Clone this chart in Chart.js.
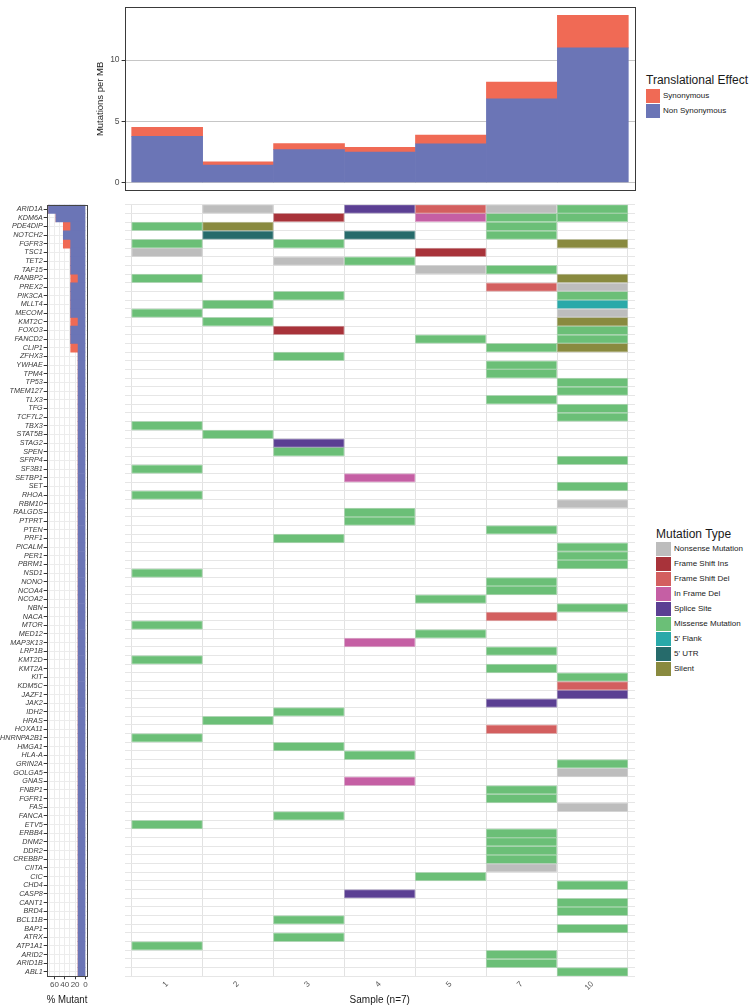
<!DOCTYPE html>
<html>
<head>
<meta charset="utf-8">
<script src="https://cdn.jsdelivr.net/npm/chart.js"></script>
<style>
    body { margin: 0; background: #fff; font-family: "Liberation Sans", Arial, sans-serif; }
    #wrap { position: relative; width: 750px; height: 1006px; overflow: hidden; }
    .box { position: absolute; }
    .lg-title { position: absolute; font-size: 12px; line-height: 14px; color: #1a1a1a; white-space: nowrap; }
    .lg-label { position: absolute; font-size: 8px; color: #1a1a1a; white-space: nowrap; }
    .lg-swatch { position: absolute; }
</style>
</head>
<body>
<div id="wrap">
    <div class="box" style="left:0;top:0;width:640px;height:200px"><canvas id="tmbChart"></canvas></div>
    <div class="box" style="left:0;top:195px;width:100px;height:811px"><canvas id="pctChart"></canvas></div>
    <div class="box" style="left:100px;top:195px;width:540px;height:811px"><canvas id="gridChart"></canvas></div>
</div>
<script>
// Samples (columns) and mutation burden per sample
const samples = ['1', '2', '3', '4', '5', '7', '10'];
const nonSynMB = [3.76, 1.42, 2.68, 2.47, 3.16, 6.84, 11.0];
const synMB = [0.74, 0.26, 0.50, 0.40, 0.71, 1.37, 2.66];
const tmbTicks = [0, 5, 10];

// Genes (rows, top to bottom)
const genes = [
    'ARID1A', 'KDM6A', 'PDE4DIP', 'NOTCH2', 'FGFR3', 'TSC1', 'TET2', 'TAF15', 'RANBP2', 'PREX2',
    'PIK3CA', 'MLLT4', 'MECOM', 'KMT2C', 'FOXO3', 'FANCD2', 'CLIP1', 'ZFHX3', 'YWHAE', 'TPM4',
    'TP53', 'TMEM127', 'TLX3', 'TFG', 'TCF7L2', 'TBX3', 'STAT5B', 'STAG2', 'SPEN', 'SFRP4',
    'SF3B1', 'SETBP1', 'SET', 'RHOA', 'RBM10', 'RALGDS', 'PTPRT', 'PTEN', 'PRF1', 'PICALM',
    'PER1', 'PBRM1', 'NSD1', 'NONO', 'NCOA4', 'NCOA2', 'NBN', 'NACA', 'MTOR', 'MED12',
    'MAP3K13', 'LRP1B', 'KMT2D', 'KMT2A', 'KIT', 'KDM5C', 'JAZF1', 'JAK2', 'IDH2', 'HRAS',
    'HOXA11', 'HNRNPA2B1', 'HMGA1', 'HLA-A', 'GRIN2A', 'GOLGA5', 'GNAS', 'FNBP1', 'FGFR1', 'FAS',
    'FANCA', 'ETV5', 'ERBB4', 'DNM2', 'DDR2', 'CREBBP', 'CIITA', 'CIC', 'CHD4', 'CASP8',
    'CANT1', 'BRD4', 'BCL11B', 'BAP1', 'ATRX', 'ATP1A1', 'ARID2', 'ARID1B', 'ABL1'
];

// % of samples mutated, per gene
const nonSynPct = [
    71.43, 57.14, 28.57, 42.86, 28.57, 28.57, 28.57, 28.57, 14.29, 28.57,
    28.57, 28.57, 28.57, 14.29, 28.57, 28.57, 14.29, 14.29, 14.29, 14.29,
    14.29, 14.29, 14.29, 14.29, 14.29, 14.29, 14.29, 14.29, 14.29, 14.29,
    14.29, 14.29, 14.29, 14.29, 14.29, 14.29, 14.29, 14.29, 14.29, 14.29,
    14.29, 14.29, 14.29, 14.29, 14.29, 14.29, 14.29, 14.29, 14.29, 14.29,
    14.29, 14.29, 14.29, 14.29, 14.29, 14.29, 14.29, 14.29, 14.29, 14.29,
    14.29, 14.29, 14.29, 14.29, 14.29, 14.29, 14.29, 14.29, 14.29, 14.29,
    14.29, 14.29, 14.29, 14.29, 14.29, 14.29, 14.29, 14.29, 14.29, 14.29,
    14.29, 14.29, 14.29, 14.29, 14.29, 14.29, 14.29, 14.29, 14.29
];
const synPct = [
    0, 0, 14.29, 0, 14.29, 0, 0, 0, 14.29, 0,
    0, 0, 0, 14.29, 0, 0, 14.29, 0, 0, 0,
    0, 0, 0, 0, 0, 0, 0, 0, 0, 0,
    0, 0, 0, 0, 0, 0, 0, 0, 0, 0,
    0, 0, 0, 0, 0, 0, 0, 0, 0, 0,
    0, 0, 0, 0, 0, 0, 0, 0, 0, 0,
    0, 0, 0, 0, 0, 0, 0, 0, 0, 0,
    0, 0, 0, 0, 0, 0, 0, 0, 0, 0,
    0, 0, 0, 0, 0, 0, 0, 0, 0
];
const pctTicks = [0, 20, 40, 60];
const pctGrid = [0, 10, 20, 30, 40, 50, 60, 70];

// Mutation types, legend order
const mutTypes = ['Nonsense Mutation', 'Frame Shift Ins', 'Frame Shift Del', 'In Frame Del', 'Splice Site',
    'Missense Mutation', "5' Flank", "5' UTR", 'Silent'];
const mutColors = ['#bdbdbd', '#a8333a', '#d35f5f', '#c55fa4', '#5b3f93',
    '#6bbf77', '#29a9a9', '#266b6b', '#898a3f'];

// [gene, sample, type]
const mutations = [
    ['ARID1A', '2', 'Nonsense Mutation'], ['ARID1A', '4', 'Splice Site'], ['ARID1A', '5', 'Frame Shift Del'],
    ['ARID1A', '7', 'Nonsense Mutation'], ['ARID1A', '10', 'Missense Mutation'],
    ['KDM6A', '3', 'Frame Shift Ins'], ['KDM6A', '5', 'In Frame Del'], ['KDM6A', '7', 'Missense Mutation'], ['KDM6A', '10', 'Missense Mutation'],
    ['PDE4DIP', '1', 'Missense Mutation'], ['PDE4DIP', '2', 'Silent'], ['PDE4DIP', '7', 'Missense Mutation'],
    ['NOTCH2', '2', "5' UTR"], ['NOTCH2', '4', "5' UTR"], ['NOTCH2', '7', 'Missense Mutation'],
    ['FGFR3', '1', 'Missense Mutation'], ['FGFR3', '3', 'Missense Mutation'], ['FGFR3', '10', 'Silent'],
    ['TSC1', '1', 'Nonsense Mutation'], ['TSC1', '5', 'Frame Shift Ins'],
    ['TET2', '3', 'Nonsense Mutation'], ['TET2', '4', 'Missense Mutation'],
    ['TAF15', '5', 'Nonsense Mutation'], ['TAF15', '7', 'Missense Mutation'],
    ['RANBP2', '1', 'Missense Mutation'], ['RANBP2', '10', 'Silent'],
    ['PREX2', '7', 'Frame Shift Del'], ['PREX2', '10', 'Nonsense Mutation'],
    ['PIK3CA', '3', 'Missense Mutation'], ['PIK3CA', '10', 'Missense Mutation'],
    ['MLLT4', '2', 'Missense Mutation'], ['MLLT4', '10', "5' Flank"],
    ['MECOM', '1', 'Missense Mutation'], ['MECOM', '10', 'Nonsense Mutation'],
    ['KMT2C', '2', 'Missense Mutation'], ['KMT2C', '10', 'Silent'],
    ['FOXO3', '3', 'Frame Shift Ins'], ['FOXO3', '10', 'Missense Mutation'],
    ['FANCD2', '5', 'Missense Mutation'], ['FANCD2', '10', 'Missense Mutation'],
    ['CLIP1', '7', 'Missense Mutation'], ['CLIP1', '10', 'Silent'],
    ['ZFHX3', '3', 'Missense Mutation'], ['YWHAE', '7', 'Missense Mutation'], ['TPM4', '7', 'Missense Mutation'],
    ['TP53', '10', 'Missense Mutation'], ['TMEM127', '10', 'Missense Mutation'], ['TLX3', '7', 'Missense Mutation'],
    ['TFG', '10', 'Missense Mutation'], ['TCF7L2', '10', 'Missense Mutation'], ['TBX3', '1', 'Missense Mutation'],
    ['STAT5B', '2', 'Missense Mutation'], ['STAG2', '3', 'Splice Site'], ['SPEN', '3', 'Missense Mutation'],
    ['SFRP4', '10', 'Missense Mutation'], ['SF3B1', '1', 'Missense Mutation'], ['SETBP1', '4', 'In Frame Del'],
    ['SET', '10', 'Missense Mutation'], ['RHOA', '1', 'Missense Mutation'], ['RBM10', '10', 'Nonsense Mutation'],
    ['RALGDS', '4', 'Missense Mutation'], ['PTPRT', '4', 'Missense Mutation'], ['PTEN', '7', 'Missense Mutation'],
    ['PRF1', '3', 'Missense Mutation'], ['PICALM', '10', 'Missense Mutation'], ['PER1', '10', 'Missense Mutation'],
    ['PBRM1', '10', 'Missense Mutation'], ['NSD1', '1', 'Missense Mutation'], ['NONO', '7', 'Missense Mutation'],
    ['NCOA4', '7', 'Missense Mutation'], ['NCOA2', '5', 'Missense Mutation'], ['NBN', '10', 'Missense Mutation'],
    ['NACA', '7', 'Frame Shift Del'], ['MTOR', '1', 'Missense Mutation'], ['MED12', '5', 'Missense Mutation'],
    ['MAP3K13', '4', 'In Frame Del'], ['LRP1B', '7', 'Missense Mutation'], ['KMT2D', '1', 'Missense Mutation'],
    ['KMT2A', '7', 'Missense Mutation'], ['KIT', '10', 'Missense Mutation'], ['KDM5C', '10', 'Frame Shift Del'],
    ['JAZF1', '10', 'Splice Site'], ['JAK2', '7', 'Splice Site'], ['IDH2', '3', 'Missense Mutation'],
    ['HRAS', '2', 'Missense Mutation'], ['HOXA11', '7', 'Frame Shift Del'], ['HNRNPA2B1', '1', 'Missense Mutation'],
    ['HMGA1', '3', 'Missense Mutation'], ['HLA-A', '4', 'Missense Mutation'], ['GRIN2A', '10', 'Missense Mutation'],
    ['GOLGA5', '10', 'Nonsense Mutation'], ['GNAS', '4', 'In Frame Del'], ['FNBP1', '7', 'Missense Mutation'],
    ['FGFR1', '7', 'Missense Mutation'], ['FAS', '10', 'Nonsense Mutation'], ['FANCA', '3', 'Missense Mutation'],
    ['ETV5', '1', 'Missense Mutation'], ['ERBB4', '7', 'Missense Mutation'], ['DNM2', '7', 'Missense Mutation'],
    ['DDR2', '7', 'Missense Mutation'], ['CREBBP', '7', 'Missense Mutation'], ['CIITA', '7', 'Nonsense Mutation'],
    ['CIC', '5', 'Missense Mutation'], ['CHD4', '10', 'Missense Mutation'], ['CASP8', '4', 'Splice Site'],
    ['CANT1', '10', 'Missense Mutation'], ['BRD4', '10', 'Missense Mutation'], ['BCL11B', '3', 'Missense Mutation'],
    ['BAP1', '10', 'Missense Mutation'], ['ATRX', '3', 'Missense Mutation'], ['ATP1A1', '1', 'Missense Mutation'],
    ['ARID2', '7', 'Missense Mutation'], ['ARID1B', '7', 'Missense Mutation'], ['ABL1', '10', 'Missense Mutation']
];

const BLUE = '#6b75b6';
const RED = '#f06a55';
const TEXT = '#1a1a1a';
const TICK_TEXT = '#4d4d4d';

Chart.defaults.font.family = '"Liberation Sans", Arial, sans-serif';
Chart.defaults.animation = false;
Chart.defaults.events = [];

// draws a plain box round the plot area
const panelFrame = {
    id: 'panelFrame',
    afterDatasetsDraw(chart, args, opts) {
        const a = chart.chartArea;
        const ctx = chart.ctx;
        ctx.save();
        ctx.strokeStyle = opts.color || '#333';
        ctx.lineWidth = 1;
        ctx.strokeRect(Math.round(a.left) + 0.5, Math.round(a.top) + 0.5,
            Math.round(a.right - a.left) - 1, Math.round(a.bottom - a.top) - 1);
        ctx.restore();
    }
};

const noLegend = { legend: { display: false }, tooltip: { enabled: false } };

// Top: mutations per MB
new Chart(document.getElementById('tmbChart'), {
    type: 'bar',
    data: {
        datasets: [
            {
                label: 'Non Synonymous',
                data: samples.map((s, i) => ({ x: i + 1, y: nonSynMB[i] })),
                backgroundColor: BLUE
            },
            {
                label: 'Synonymous',
                data: samples.map((s, i) => ({ x: i + 1, y: synMB[i] })),
                backgroundColor: RED
            }
        ]
    },
    options: {
        responsive: true,
        maintainAspectRatio: false,
        layout: { padding: { left: 95, right: 4.6, top: 1.7, bottom: 9.3 } },
        datasets: { bar: { barPercentage: 1, categoryPercentage: 1 } },
        plugins: { ...noLegend, panelFrame: { color: '#3a3a3a' } },
        scales: {
            x: {
                type: 'linear', stacked: true, offset: false, min: 0.4, max: 7.6,
                afterBuildTicks: s => { s.ticks = samples.map((_, i) => ({ value: i + 1 })); },
                afterFit: s => { s.height = 0; },
                ticks: { display: false },
                grid: { display: false, offset: false },
                border: { display: false }
            },
            y: {
                stacked: true, min: -0.68, max: 14.34,
                afterBuildTicks: s => { s.ticks = tmbTicks.map(v => ({ value: v })); },
                afterFit: s => { s.width = 29.6; },
                ticks: { font: { size: 8.5 }, color: TICK_TEXT, padding: 2 },
                grid: { color: '#c6c6c6', tickLength: 3, tickColor: '#333' },
                border: { display: false },
                title: { display: true, text: 'Mutations per MB', font: { size: 9.5 }, color: TEXT, padding: { top: 0, bottom: 0 } }
            }
        }
    },
    plugins: [panelFrame]
});

// Left: % mutant per gene
new Chart(document.getElementById('pctChart'), {
    type: 'bar',
    data: {
        labels: genes,
        datasets: [
            { label: 'Non Synonymous', data: nonSynPct, backgroundColor: BLUE },
            { label: 'Synonymous', data: synPct, backgroundColor: RED }
        ]
    },
    options: {
        indexAxis: 'y',
        responsive: true,
        maintainAspectRatio: false,
        layout: { padding: { left: 0, right: 12.7, top: 9.7, bottom: 0 } },
        datasets: { bar: { barPercentage: 1, categoryPercentage: 1 } },
        plugins: { ...noLegend, panelFrame: { color: '#444' } },
        scales: {
            x: {
                type: 'linear', reverse: true, stacked: true, min: -3.57, max: 75,
                afterBuildTicks: s => { s.ticks = pctGrid.map(v => ({ value: v })); },
                afterFit: s => { s.height = 29.7; },
                ticks: {
                    autoSkip: false, maxRotation: 0, font: { size: 8 }, color: TICK_TEXT, padding: 1,
                    callback: v => pctTicks.includes(v) ? v : ''
                },
                grid: {
                    color: '#ececec', tickLength: 3,
                    tickColor: c => pctTicks.includes(c.tick.value) ? '#333' : 'rgba(0,0,0,0)'
                },
                border: { display: false },
                title: { display: true, text: '% Mutant', font: { size: 10.5 }, color: TEXT, padding: { top: 0, bottom: 0 } }
            },
            y: {
                stacked: true,
                afterFit: s => { s.width = 46.7; },
                ticks: { autoSkip: false, font: { size: 7.2, style: 'italic' }, color: '#3a3a3a', padding: 1 },
                grid: { offset: false, color: '#ececec', tickLength: 3, tickColor: '#333' },
                border: { display: false }
            }
        }
    },
    plugins: [panelFrame]
});

// Main: mutation tiles
const cellSets = mutTypes.map((type, k) => ({
    label: type,
    xAxisID: 'x',
    yAxisID: 'y',
    data: mutations.filter(m => m[2] === type).map(m => {
        const c = samples.indexOf(m[1]) + 1;
        return { x: [c - 0.5, c + 0.5], y: m[0] };
    }),
    backgroundColor: mutColors[k],
    borderColor: mutColors[k] + '70',
    borderWidth: 1,
    borderSkipped: false
}));

new Chart(document.getElementById('gridChart'), {
    type: 'bar',
    data: { labels: genes, datasets: cellSets },
    options: {
        indexAxis: 'y',
        responsive: true,
        maintainAspectRatio: false,
        layout: { padding: { left: 24.5, right: 5, top: 9.7, bottom: 0 } },
        datasets: { bar: { barPercentage: 1, categoryPercentage: 1, grouped: false } },
        plugins: noLegend,
        scales: {
            x: {
                type: 'linear', position: 'bottom', min: 0.4, max: 7.6,
                afterBuildTicks: s => { s.ticks = samples.map((_, i) => ({ value: i + 0.5 })).concat([{ value: samples.length + 0.5 }]); },
                afterFit: s => { s.height = 0; },
                ticks: { display: false },
                grid: { color: '#e2e2e2', drawTicks: false },
                border: { display: false }
            },
            xl: {
                type: 'linear', axis: 'x', position: 'bottom', min: 0.4, max: 7.6,
                afterBuildTicks: s => { s.ticks = samples.map((_, i) => ({ value: i + 1 })); },
                afterFit: s => { s.height = 29.7; },
                ticks: {
                    autoSkip: false, minRotation: 45, maxRotation: 45, font: { size: 8 }, color: '#555', padding: 3,
                    callback: (v, i) => samples[i]
                },
                grid: { display: false, drawTicks: false },
                border: { display: false },
                title: { display: true, text: 'Sample (n=7)', font: { size: 10 }, color: TEXT, padding: { top: 0, bottom: 0 } }
            },
            y: {
                type: 'category',
                afterFit: s => { s.width = 0; },
                ticks: { display: false },
                grid: { offset: true, color: '#e6e6e6', drawTicks: false },
                border: { display: false }
            }
        }
    }
});

// Legends
const wrap = document.getElementById('wrap');
function addLegend(title, left, top, items, colors, sw) {
    const t = document.createElement('div');
    t.className = 'lg-title';
    t.style.left = left + 'px';
    t.style.top = top + 'px';
    t.textContent = title;
    wrap.appendChild(t);
    items.forEach((name, i) => {
        const y = sw.top + i * sw.step;
        const box = document.createElement('div');
        box.className = 'lg-swatch';
        box.style.cssText = `left:${left}px;top:${y}px;width:${sw.w}px;height:${sw.h}px;background:${colors[i]}`;
        wrap.appendChild(box);
        const lab = document.createElement('div');
        lab.className = 'lg-label';
        lab.style.cssText = `left:${left + sw.w + 3}px;top:${y}px;line-height:${sw.h}px`;
        lab.textContent = name;
        wrap.appendChild(lab);
    });
}

addLegend('Translational Effect', 646, 73, ['Synonymous', 'Non Synonymous'], [RED, BLUE],
    { top: 89, step: 15, w: 14, h: 14 });
addLegend('Mutation Type', 656, 527, mutTypes, mutColors,
    { top: 542, step: 15, w: 15, h: 14 });
</script>
</body>
</html>
